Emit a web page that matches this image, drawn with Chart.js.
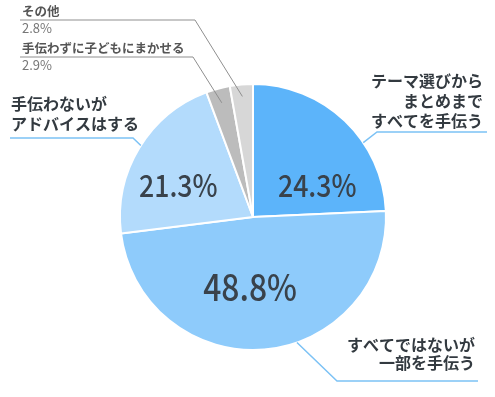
<!DOCTYPE html>
<html>
<head>
<meta charset="utf-8">
<script src="https://cdn.jsdelivr.net/npm/chart.js@4/dist/chart.umd.min.js"></script>
<style>
    html, body { margin: 0; padding: 0; background: #ffffff; }
    #wrap { width: 495px; height: 397px; position: relative; }
</style>
</head>
<body>
<div id="wrap"><canvas id="chart"></canvas></div>
<script>
// 回答項目(時計回り、12時の位置から)
const categories = [
    ['テーマ選びから', 'まとめまで', 'すべてを手伝う'],
    ['すべてではないが', '一部を手伝う'],
    ['手伝わないが', 'アドバイスはする'],
    ['手伝わずに子どもにまかせる'],
    ['その他']
];
const values = [24.3, 48.8, 21.3, 2.9, 2.8];
const sliceColors = ['#5cb4fa', '#8ecbfb', '#b3dbfc', '#bcbcbc', '#d7d7d7'];

const FONT = '"Noto Sans CJK JP", "Noto Sans", sans-serif';

// 各ラベルの配置 (inside: 角度[deg], 半径比, 文字サイズ / outer: 引き出し線)
const labelLayout = [
    { inside: [-26.6, 0.54, 31], lead: { a: -34, r: 1.0, elbow: [377, 132], end: [487, 132] },
      text: { x: 483, y: 81, align: 'right', dy: 20 }, color: '#7cc2f5', big: true },
    { inside: [92.4, 0.53, 37], lead: { a: 70.7, r: 1.0, elbow: [337, 381], end: [478, 381] },
      text: { x: 475, y: 345, align: 'right', dy: 18 }, color: '#7cc2f5', big: true },
    { inside: [203, 0.61, 31], lead: { a: 212.5, r: 1.0, elbow: [133, 138], end: [10, 138] },
      text: { x: 11, y: 104, align: 'left', dy: 20 }, color: '#7cc2f5', big: true },
    { inside: null, lead: { a: null, r: 0.89, elbow: [193, 57], end: [20, 57] },
      text: { x: 22, y: 48, align: 'left', dy: 17 }, color: '#8f8f8f', big: false },
    { inside: null, lead: { a: null, r: 0.91, elbow: [195, 20], end: [20, 20] },
      text: { x: 22, y: 11, align: 'left', dy: 17 }, color: '#8f8f8f', big: false }
];

const labelsPlugin = {
    id: 'pieLabels',
    afterDatasetsDraw (chart) {
        const ctx = chart.ctx;
        const arcs = chart.getDatasetMeta(0).data;
        ctx.save();
        arcs.forEach((arc, i) => {
            const lay = labelLayout[i];
            const { x: cx, y: cy, outerRadius, startAngle, endAngle } = arc.getProps(['x', 'y', 'outerRadius', 'startAngle', 'endAngle'], true);
            const val = values[i].toFixed(1) + '%';

            // 円内の数値(やや縦長の字形に寄せる)
            if (lay.inside) {
                const a = lay.inside[0] * Math.PI / 180;
                const rr = outerRadius * lay.inside[1];
                ctx.save();
                ctx.translate(cx + Math.cos(a) * rr, cy + Math.sin(a) * rr);
                ctx.scale(0.86, 1);
                ctx.font = '500 ' + lay.inside[2] + 'px ' + FONT;
                ctx.fillStyle = '#39424b';
                ctx.textAlign = 'center';
                ctx.textBaseline = 'middle';
                ctx.fillText(val, 0, 0);
                ctx.restore();
            }

            // 引き出し線
            const a0 = lay.lead.a !== null ? lay.lead.a * Math.PI / 180 : (startAngle + endAngle) / 2;
            const r0 = outerRadius * lay.lead.r;
            ctx.beginPath();
            ctx.moveTo(cx + Math.cos(a0) * r0, cy + Math.sin(a0) * r0);
            ctx.lineTo(lay.lead.elbow[0], lay.lead.elbow[1]);
            ctx.lineTo(lay.lead.end[0], lay.lead.end[1]);
            ctx.strokeStyle = lay.color;
            ctx.lineWidth = lay.big ? 1.5 : 1;
            ctx.stroke();

            // 項目名
            ctx.textBaseline = 'middle';
            ctx.textAlign = lay.text.align;
            const lines = categories[i];
            if (lay.big) {
                ctx.font = 'bold 16px ' + FONT;
                ctx.fillStyle = '#333a40';
                lines.forEach((t, k) => ctx.fillText(t, lay.text.x, lay.text.y + k * lay.text.dy));
            } else {
                ctx.font = 'bold 12.5px ' + FONT;
                ctx.fillStyle = '#555555';
                ctx.fillText(lines[0], lay.text.x, lay.text.y);
                ctx.font = '13px ' + FONT;
                ctx.fillStyle = '#777777';
                ctx.fillText(val, lay.text.x, lay.text.y + lay.text.dy);
            }
        });
        ctx.restore();
    }
};

new Chart(document.getElementById('chart'), {
    type: 'pie',
    data: {
        labels: categories.map(c => c.join('')),
        datasets: [{
            data: values,
            backgroundColor: sliceColors,
            borderColor: '#ffffff',
            borderWidth: 2
        }]
    },
    options: {
        responsive: true,
        maintainAspectRatio: false,
        animation: false,
        layout: { padding: { top: 83, bottom: 46, left: 119, right: 108 } },
        plugins: {
            legend: { display: false },
            tooltip: { enabled: false }
        }
    },
    plugins: [labelsPlugin]
});
</script>
</body>
</html>
